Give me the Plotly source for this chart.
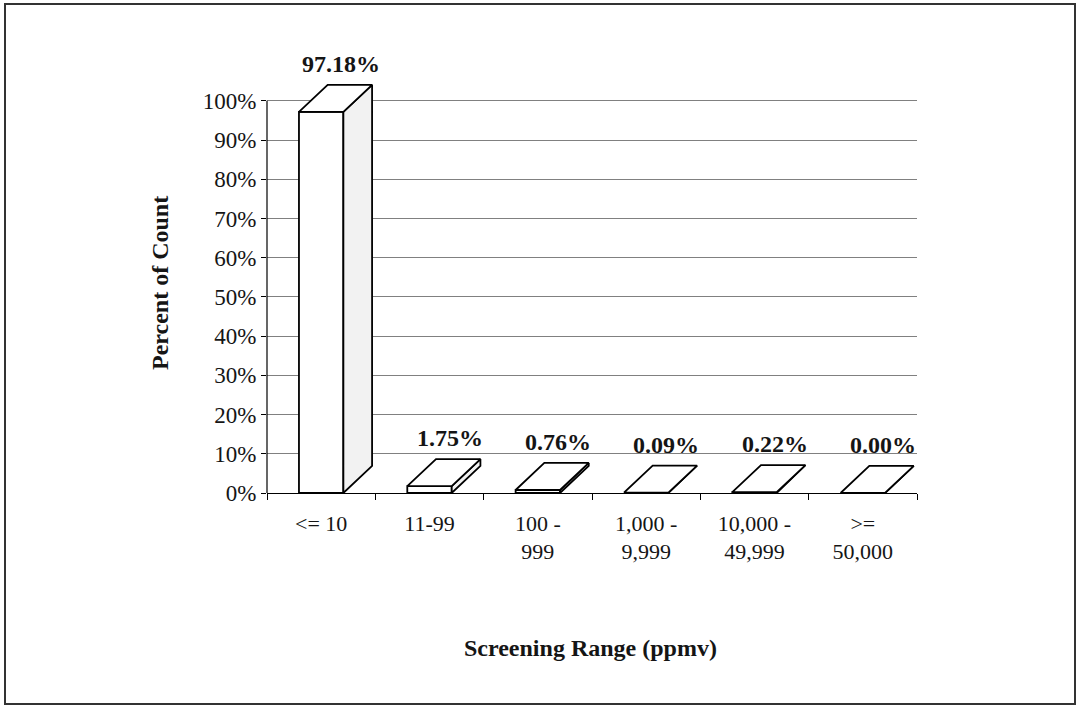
import plotly.graph_objects as go

# ---- data ----
categories = ["<= 10", "11-99", "100 -<br>999", "1,000 -<br>9,999", "10,000 -<br>49,999", "&gt;=<br>50,000"]
percents = [97.18, 1.75, 0.76, 0.09, 0.22, 0.00]
value_labels = ["97.18%", "1.75%", "0.76%", "0.09%", "0.22%", "0.00%"]
y_ticks = [0, 10, 20, 30, 40, 50, 60, 70, 80, 90, 100]
y_tick_labels = ["0%", "10%", "20%", "30%", "40%", "50%", "60%", "70%", "80%", "90%", "100%"]

# ---- 3D bar geometry (in axis units) ----
HALF = 0.205   # half width of bar front face (category units)
DX = 0.265     # depth offset in x (category units)
DY = 6.9       # depth offset in y (percent units)

FONT = "Liberation Serif, Times New Roman, serif"
TXT = "#151515"
LINE = dict(color="black", width=1.8)

fig = go.Figure()

def face(xs, ys, fill="white"):
    fig.add_trace(go.Scatter(
        x=xs, y=ys, mode="lines", fill="toself", fillcolor=fill,
        line=LINE, hoverinfo="skip", showlegend=False))

for i, v in enumerate(percents):
    xl, xr = i - HALF, i + HALF
    face([xl, xr, xr, xl, xl], [0, 0, v, v, 0])
    face([xr, xr + DX, xr + DX, xr, xr], [0, DY, v + DY, v, 0], fill="#f2f2f2")
    face([xl, xr, xr + DX, xl + DX, xl], [v, v, v + DY, v + DY, v])
    fig.add_annotation(x=i + 0.185, y=v + DY, xref="x", yref="y",
                       text="<b>" + value_labels[i] + "</b>", showarrow=False,
                       yanchor="middle", yshift=21,
                       font=dict(family=FONT, size=24, color=TXT))

# y axis line only up to the top tick
fig.add_shape(type="line", xref="paper", yref="y", x0=0, x1=0,
              y0=y_ticks[0], y1=y_ticks[-1], line=dict(color="black", width=1.2))

# outer border
fig.add_shape(type="rect", xref="paper", yref="paper",
              x0=(5 - 267) / 650, x1=(1075 - 267) / 650,
              y0=(493 - 704) / 451, y1=(493 - 4) / 451,
              line=dict(color="#333333", width=2), fillcolor="rgba(0,0,0,0)")

# axis titles
fig.add_annotation(xref="paper", yref="paper", x=(590 - 267) / 650, y=(493 - 648) / 451,
                   text="<b>Screening Range (ppmv)</b>", showarrow=False,
                   xanchor="center", yanchor="middle",
                   font=dict(family=FONT, size=24, color=TXT))
fig.add_annotation(xref="paper", yref="paper", x=(160 - 267) / 650, y=(493 - 283) / 451,
                   text="<b>Percent of Count</b>", showarrow=False, textangle=-90,
                   xanchor="center", yanchor="middle",
                   font=dict(family=FONT, size=24, color=TXT))

fig.update_xaxes(
    type="linear", range=[-0.5, 5.5], tickmode="array",
    tickvals=list(range(len(categories))), ticktext=categories,
    ticks="", showgrid=False, zeroline=False,
    showline=True, linecolor="black", linewidth=1.2,
    minor=dict(tick0=-0.5, dtick=1, ticks="outside", ticklen=6,
               tickcolor="black", tickwidth=1, showgrid=False),
    tickfont=dict(family=FONT, size=22, color=TXT),
    ticklabelstandoff=10, fixedrange=True)

fig.update_yaxes(
    range=[0, 115], tickmode="array", tickvals=y_ticks, ticktext=y_tick_labels,
    ticks="outside", ticklen=5, tickcolor="black",
    showgrid=True, gridcolor="#808080", gridwidth=1,
    zeroline=False, showline=False,
    tickfont=dict(family=FONT, size=23, color=TXT), fixedrange=True)

fig.update_layout(
    width=1079, height=708, autosize=False,
    margin=dict(l=267, r=162, t=42, b=215, pad=0),
    paper_bgcolor="white", plot_bgcolor="white",
    showlegend=False)

fig.write_html("out.html", config={"displayModeBar": False},
               post_script="document.body.style.margin='0px';document.body.style.overflow='hidden';")
